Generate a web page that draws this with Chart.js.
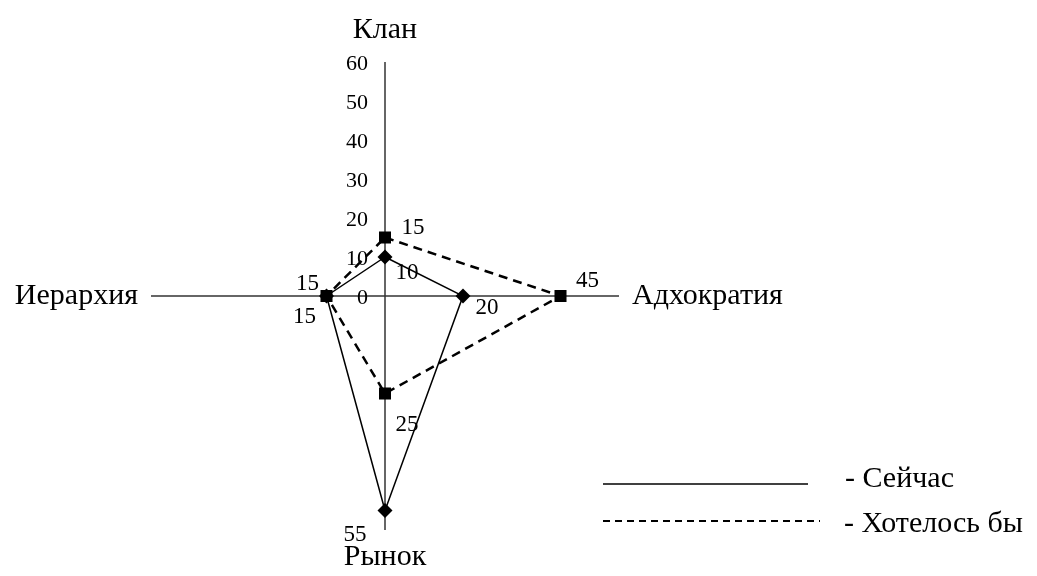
<!DOCTYPE html>
<html>
<head>
<meta charset="utf-8">
<script src="https://cdn.jsdelivr.net/npm/chart.js@4.4.1/dist/chart.umd.min.js"></script>
<style>
  html, body { margin: 0; padding: 0; background: #fff; }
  #wrap { width: 1037px; height: 576px; }
</style>
</head>
<body>
<div id="wrap"><canvas id="radar"></canvas></div>
<script>
// axes of the diagram, clockwise from the top
const axisNames   = ['Клан', 'Адхократия', 'Рынок', 'Иерархия'];
const nowValues   = [10, 20, 55, 15];
const wishValues  = [15, 45, 25, 15];
const seriesNames = ['Сейчас', 'Хотелось бы'];
const tickMin  = 0;
const tickMax  = 60;
const tickStep = 10;

const FONT = '"Liberation Serif", "Times New Roman", serif';

// where each value label sits relative to its marker (dx, dy)
const valueOffsets = [
  [[22, 16], [24, 12], [-30, 24], [-22, 21]],
  [[28, -10], [27, -15], [22, 31], [-19, -12]]
];
// gap between the end of each axis and its name
const nameGaps = [32, 13, 27, 13];

// tick numbers to the left of the vertical axis
const tickLabels = {
  id: 'tickLabels',
  afterDatasetsDraw(chart) {
    const r = chart.scales.r, ctx = chart.ctx;
    ctx.save();
    ctx.font = '22px ' + FONT;
    ctx.fillStyle = '#000';
    ctx.textAlign = 'right';
    ctx.textBaseline = 'middle';
    r.ticks.forEach(t => {
      const d = r.getDistanceFromCenterForValue(t.value);
      ctx.fillText(String(t.value), r.xCenter - 17, r.yCenter - d + 2);
    });
    ctx.restore();
  }
};

// axis names at the ends of the cross
const axisTitles = {
  id: 'axisTitles',
  afterDraw(chart) {
    const r = chart.scales.r, ctx = chart.ctx;
    ctx.save();
    ctx.font = '30px ' + FONT;
    ctx.fillStyle = '#000';
    ctx.textBaseline = 'middle';
    axisNames.forEach((name, i) => {
      const p = r.getPointPosition(i, r.drawingArea + nameGaps[i]);
      const c = Math.cos(p.angle);
      ctx.textAlign = Math.abs(c) < 0.01 ? 'center' : (c > 0 ? 'left' : 'right');
      ctx.fillText(name, p.x, p.y);
    });
    ctx.restore();
  }
};

// numbers next to the markers
const valueLabels = {
  id: 'valueLabels',
  afterDatasetsDraw(chart) {
    const ctx = chart.ctx;
    ctx.save();
    ctx.font = '23px ' + FONT;
    ctx.fillStyle = '#000';
    ctx.textAlign = 'center';
    ctx.textBaseline = 'middle';
    chart.data.datasets.forEach((ds, d) => {
      const meta = chart.getDatasetMeta(d);
      meta.data.forEach((pt, i) => {
        const off = valueOffsets[d][i];
        ctx.fillText(String(ds.data[i]), pt.x + off[0], pt.y + off[1]);
      });
    });
    ctx.restore();
  }
};

// legend: line sample + "- name", bottom right
const lineLegend = {
  id: 'lineLegend',
  afterDraw(chart) {
    const ctx = chart.ctx;
    const rows = [
      { y: 484, x1: 603, x2: 808, tx: 845, ty: 479 },
      { y: 521, x1: 603, x2: 820, tx: 844, ty: 524 }
    ];
    ctx.save();
    chart.data.datasets.forEach((ds, d) => {
      const row = rows[d];
      ctx.strokeStyle = '#000';
      ctx.lineWidth = d === 0 ? 1.3 : 2;
      ctx.setLineDash(d === 0 ? [] : [7, 5]);
      ctx.beginPath();
      ctx.moveTo(row.x1, row.y);
      ctx.lineTo(row.x2, row.y);
      ctx.stroke();
      ctx.setLineDash([]);
      ctx.font = '30px ' + FONT;
      ctx.fillStyle = '#000';
      ctx.textAlign = 'left';
      ctx.textBaseline = 'middle';
      ctx.fillText('- ' + ds.label, row.tx, row.ty);
    });
    ctx.restore();
  }
};

new Chart(document.getElementById('radar'), {
  type: 'radar',
  data: {
    labels: axisNames,
    datasets: [
      {
        label: seriesNames[0],
        data: nowValues,
        borderColor: '#000',
        borderWidth: 1.5,
        backgroundColor: '#000',
        fill: false,
        tension: 0,
        pointStyle: 'rectRot',
        pointRadius: 7.5,
        pointBackgroundColor: '#000',
        pointBorderWidth: 0
      },
      {
        label: seriesNames[1],
        data: wishValues,
        borderColor: '#000',
        borderWidth: 2.5,
        borderDash: [9, 6],
        backgroundColor: '#000',
        fill: false,
        tension: 0,
        pointStyle: 'rect',
        pointRadius: 8.5,
        pointBackgroundColor: '#000',
        pointBorderWidth: 0
      }
    ]
  },
  options: {
    responsive: true,
    maintainAspectRatio: false,
    animation: false,
    layout: { padding: { left: 151, top: 62, right: 418, bottom: 46 } },
    plugins: {
      legend: { display: false },
      tooltip: { enabled: false }
    },
    scales: {
      r: {
        min: tickMin,
        max: tickMax,
        ticks: { display: false, stepSize: tickStep },
        grid: { display: false },
        angleLines: { display: true, color: '#333', lineWidth: 1.5 },
        pointLabels: { display: false }
      }
    }
  },
  plugins: [tickLabels, axisTitles, valueLabels, lineLegend]
});
</script>
</body>
</html>
